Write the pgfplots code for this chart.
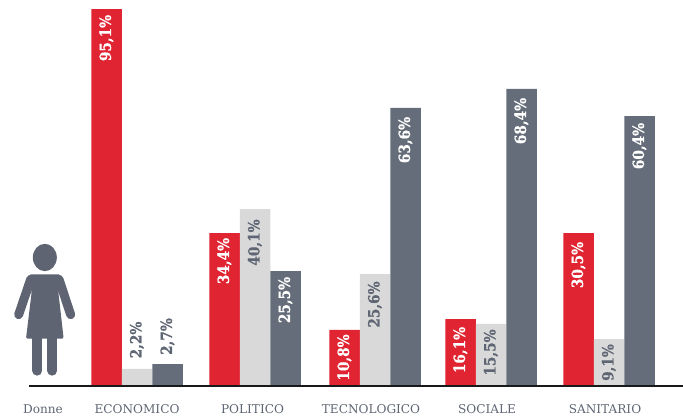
\documentclass[border=0pt]{standalone}
\usepackage{fontspec}
\usepackage{pgfplots}
\usepackage{pgfplotstable}
\pgfplotsset{compat=1.18}
\setmainfont{DejaVu Serif}
\newfontfamily\labfont{DejaVu Serif Bold}[FakeStretch=0.88,FakeBold=0.6]
\definecolor{cred}{HTML}{E02432}
\definecolor{clight}{HTML}{D9D9D9}
\definecolor{cdark}{HTML}{666D7A}
\definecolor{ctext}{HTML}{5F6673}
\definecolor{cfig}{HTML}{5F6473}
% col: share of the dark text colour in the label (0 = white, 100 = dark)
\pgfplotstableread{
x h label off col
0 95.09 95,1 -29 0
1 38.44 34,4 -28 0
2.017 13.91 10,8 -27.5 0
3 16.69 16,1 -31 0
4 38.44 30,5 -32 0
}\tabred
\pgfplotstableread{
x h label off col
0 4.05 2,2 29 100
1 44.51 40,1 -33.5 100
2.017 28.07 25,6 -30.5 100
3 15.43 15,5 -28.5 100
4 11.63 9,1 -23.5 100
}\tablight
\pgfplotstableread{
x h label off col
0 5.31 2,7 27.5 100
1 28.83 25,5 -29 0
2.017 70.06 63,6 -32 0
3 74.86 68,4 -32 0
4 68.03 60,4 -30 0
}\tabdark
\begin{document}
\begin{tikzpicture}
\path[use as bounding box] (0,-32pt) rectangle (683pt,385pt);
\begin{axis}[
  at={(0,0)}, anchor=south west, name=main,
  scale only axis, width=683pt, height=385pt,
  xmin=-1.161, xmax=4.627, ymin=0, ymax=97.37,
  ybar=0pt, bar width=30.5pt,
  axis line style={draw=none},
  clip=false,
  ymajorticks=false,
  xtick={-0.797,0,0.979,1.983,2.966,3.966},
  xticklabels={Donne,ECONOMICO,POLITICO,TECNOLOGICO,SOCIALE,SANITARIO},
  major tick length=0pt,
  xticklabel style={font=\fontsize{12.1}{13}\selectfont, text=ctext, anchor=center, yshift=-24.5pt},
  point meta=explicit symbolic,
  nodes near coords={\pgfplotspointmeta\%},
  visualization depends on={\thisrow{off} \as \laboff},
  visualization depends on={\thisrow{col} \as \labcol},
  every node near coord/.append style={
    font=\fontsize{15.5}{16}\labfont, rotate=90, anchor=center,
    xshift=\laboff pt, text=ctext!\labcol!white, inner sep=0pt},
]
\addplot[fill=cred, draw=none] table[x=x,y=h,meta=label]{\tabred};
\addplot[fill=clight, draw=none] table[x=x,y=h,meta=label]{\tablight};
\addplot[fill=cdark, draw=none] table[x=x,y=h,meta=label]{\tabdark};
\draw[black!90, line width=2pt] (axis cs:-0.914,-0.2) -- (axis cs:4.627,-0.2);
\end{axis}
\begin{scope}[shift={(0,165pt)}, x=0.33333pt, y=-0.33333pt]
\fill[cfig] (134.5,112.5) ellipse [x radius=36, y radius=41];
\fill[cfig, rounded corners=1.5pt]
  (88,163) -- (181,163) -- (175,216) -- (191,356) -- (78,356) -- (95,216) -- cycle;
\draw[cfig, line width=9pt, line cap=round] (92,178) -- (56,284);
\draw[cfig, line width=9pt, line cap=round] (177,178) -- (212,284);
\draw[cfig, line width=10pt, line cap=round] (112,350) -- (112,452);
\draw[cfig, line width=10pt, line cap=round] (157,350) -- (157,452);
\end{scope}
\end{tikzpicture}
\end{document}
